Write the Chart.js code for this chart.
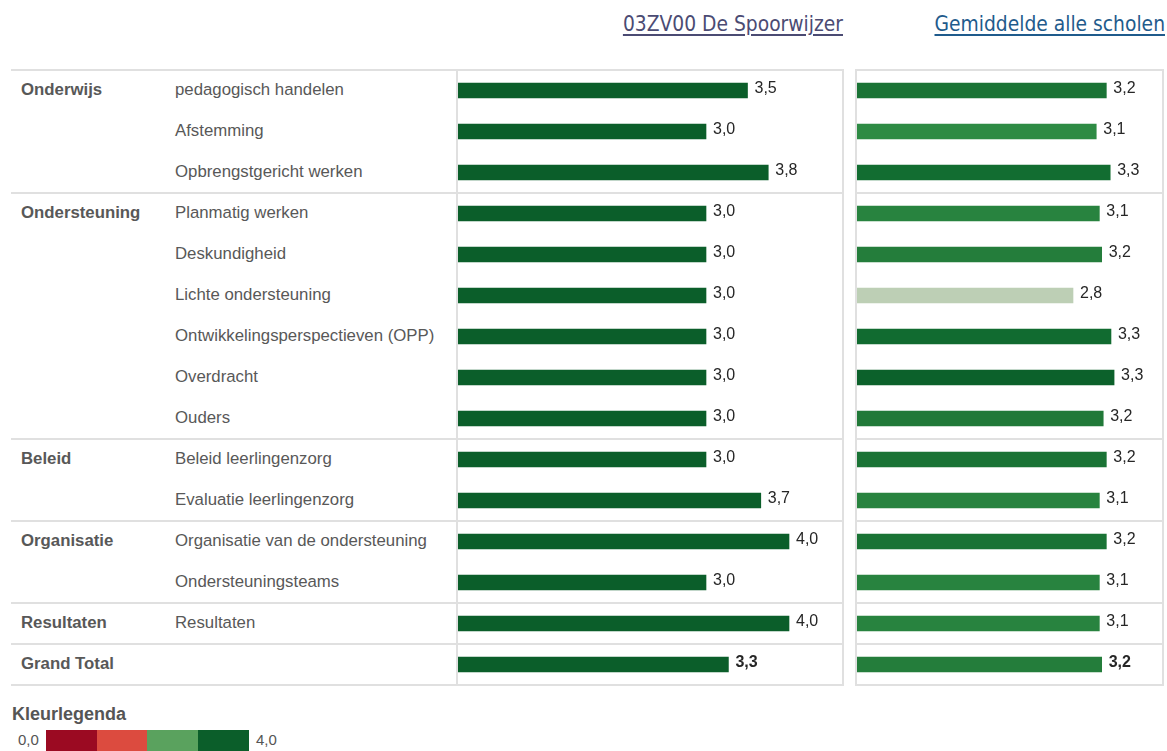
<!DOCTYPE html>
<html>
<head>
  <title>Kwaliteitsmeter - 03ZV00 De Spoorwijzer</title>
  <script src="https://cdn.jsdelivr.net/npm/chart.js@4.4.1/dist/chart.umd.min.js"></script>
  <style>
    body { margin: 0; background: #fff; font-family: "Liberation Sans", Arial, sans-serif; }
    #page { position: relative; width: 1167px; height: 751px; overflow: hidden; }
    .head {
      position: absolute; top: 12px; font-family: "DejaVu Sans Condensed", Tahoma, sans-serif;
      font-size: 20.8px; text-decoration: underline; text-underline-offset: 3px; white-space: nowrap;
    }
    .cell { position: absolute; font-size: 16.8px; color: #585858; white-space: nowrap; line-height: 20px; }
    .grp { font-weight: bold; }
    .hline { position: absolute; height: 2px; background: #e0e0e0; }
    canvas { position: absolute; }
    .legend-title { position: absolute; left: 12px; top: 704px; font-size: 18px; font-weight: bold; color: #555; }
    .legend-txt { position: absolute; top: 731px; font-size: 15px; color: #555; }
    .swatch { position: absolute; top: 730px; height: 22px; }
  </style>
</head>
<body>
<div id="page">
  <span class="head" style="right:324px; color:#4b4b73;">03ZV00 De Spoorwijzer</span>
  <span class="head" style="right:2px; color:#1f5b8c;">Gemiddelde alle scholen</span>
  <div id="table"></div>
  <canvas id="school-chart" width="390" height="619" style="left:455px; top:68px;"></canvas>
  <canvas id="avg-chart" width="311" height="619" style="left:854px; top:68px;"></canvas>

  <div class="legend-title">Kleurlegenda</div>
  <div class="legend-txt" style="left:18px;">0,0</div>
  <div class="swatch" style="left:46px; width:51px; background:#9b0a22;"></div>
  <div class="swatch" style="left:97px; width:50px; background:#dc4b3f;"></div>
  <div class="swatch" style="left:147px; width:51px; background:#5aa25e;"></div>
  <div class="swatch" style="left:198px; width:51px; background:#0b5e2a;"></div>
  <div class="legend-txt" style="left:256px;">4,0</div>
</div>

<script>
  // Data
  const groupNames = ['Onderwijs', 'Ondersteuning', 'Beleid', 'Organisatie', 'Resultaten', 'Grand Total'];
  const groupSizes = [3, 6, 2, 2, 1, 1];
  const indicators = [
    'pedagogisch handelen', 'Afstemming', 'Opbrengstgericht werken',
    'Planmatig werken', 'Deskundigheid', 'Lichte ondersteuning',
    'Ontwikkelingsperspectieven (OPP)', 'Overdracht', 'Ouders',
    'Beleid leerlingenzorg', 'Evaluatie leerlingenzorg',
    'Organisatie van de ondersteuning', 'Ondersteuningsteams',
    'Resultaten', ''
  ];
  const schoolScores = [3.5, 3.0, 3.75, 3.0, 3.0, 3.0, 3.0, 3.0, 3.0, 3.0, 3.66, 4.0, 3.0, 4.0, 3.27];
  const averageScores = [3.23, 3.10, 3.28, 3.14, 3.17, 2.80, 3.29, 3.33, 3.19, 3.23, 3.14, 3.23, 3.14, 3.14, 3.17];

  // layout
  const TOP = 70, ROW_H = 41, LINE = '#e0e0e0';
  const boundaries = [];
  groupSizes.reduce((acc, n) => { boundaries.push(acc + n); return acc + n; }, 0);

  // left label table
  const table = document.getElementById('table');
  let rowIdx = 0;
  const addLine = (y) => {
    const d = document.createElement('div');
    d.className = 'hline';
    d.style.cssText = `left:11px; width:446px; top:${y - 1}px;`;
    table.appendChild(d);
  };
  addLine(TOP);
  groupNames.forEach((g, gi) => {
    const gl = document.createElement('div');
    gl.className = 'cell grp';
    gl.textContent = g;
    gl.style.cssText = `left:21px; top:${TOP + rowIdx * ROW_H + ROW_H / 2 - 11}px;`;
    table.appendChild(gl);
    for (let k = 0; k < groupSizes[gi]; k++) {
      const c = document.createElement('div');
      c.className = 'cell';
      c.textContent = indicators[rowIdx];
      c.style.cssText = `left:175px; top:${TOP + rowIdx * ROW_H + ROW_H / 2 - 11}px;`;
      table.appendChild(c);
      rowIdx++;
    }
    addLine(TOP + rowIdx * ROW_H);
  });

  // colour for average bars
  const avgStops = [[2.8, [189, 207, 181]], [3.1, [46, 139, 68]], [3.2, [31, 119, 55]], [3.3, [15, 106, 47]], [3.34, [11, 94, 42]]];
  function avgColor(v) {
    if (v <= avgStops[0][0]) return `rgb(${avgStops[0][1]})`;
    for (let i = 1; i < avgStops.length; i++) {
      if (v <= avgStops[i][0]) {
        const [v0, c0] = avgStops[i - 1], [v1, c1] = avgStops[i];
        const t = (v - v0) / (v1 - v0);
        return 'rgb(' + c0.map((c, j) => Math.round(c + (c1[j] - c) * t)).join(',') + ')';
      }
    }
    return `rgb(${avgStops[avgStops.length - 1][1]})`;
  }

  // plugins
  const tableLines = {
    id: 'tableLines',
    afterDatasetsDraw(chart) {
      const { ctx, chartArea: a } = chart;
      const rowH = (a.bottom - a.top) / indicators.length;
      ctx.save();
      ctx.strokeStyle = LINE;
      ctx.lineWidth = 2;
      ctx.strokeRect(a.left, a.top, a.right - a.left, a.bottom - a.top);
      ctx.beginPath();
      boundaries.forEach(b => {
        const y = a.top + b * rowH;
        ctx.moveTo(a.left, y);
        ctx.lineTo(a.right, y);
      });
      ctx.stroke();
      ctx.restore();
    }
  };
  const valueLabels = {
    id: 'valueLabels',
    afterDatasetsDraw(chart) {
      const { ctx } = chart;
      const ds = chart.data.datasets[0];
      ctx.save();
      ctx.textBaseline = 'middle';
      ctx.fillStyle = '#262626';
      chart.getDatasetMeta(0).data.forEach((bar, i) => {
        const last = i === ds.data.length - 1;
        ctx.font = (last ? 'bold ' : '') + '16px "Liberation Sans", Arial, sans-serif';
        ctx.fillText(ds.data[i].toFixed(1).replace('.', ','), bar.x + 7, bar.y - 2);
      });
      ctx.restore();
    }
  };

  function makeChart(id, values, colors, max) {
    return new Chart(document.getElementById(id), {
      type: 'bar',
      data: {
        labels: indicators.map((l, i) => l || 'Grand Total'),
        datasets: [{ data: values, backgroundColor: colors, barThickness: 15 }]
      },
      options: {
        indexAxis: 'y',
        responsive: false,
        animation: false,
        layout: { padding: 2 },
        plugins: { legend: { display: false }, tooltip: { enabled: false } },
        scales: {
          x: { display: false, min: 0, max: max },
          y: { display: false }
        }
      },
      plugins: [tableLines, valueLabels]
    });
  }

  makeChart('school-chart', schoolScores, schoolScores.map(() => '#0b5e2a'), 386 / 83);
  makeChart('avg-chart', averageScores, averageScores.map(avgColor), 307 / 77.5);
</script>
</body>
</html>
